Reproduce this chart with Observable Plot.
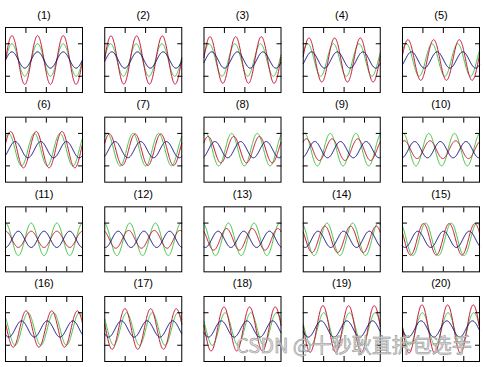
<!DOCTYPE html>
<html><head><meta charset="utf-8">
<script src="https://cdn.jsdelivr.net/npm/d3@7"></script>
<script src="https://cdn.jsdelivr.net/npm/@observablehq/plot@0.6"></script>
<style>
body{margin:0;background:#fff;}
#wrap{position:relative;width:484px;height:367px;overflow:hidden;}
#wm{position:absolute;left:236px;top:330px;font:20px "Noto Sans CJK SC";color:rgba(215,215,215,0.85);-webkit-text-stroke:0.5px #8a8a8a;white-space:nowrap;letter-spacing:0px}
</style></head><body>
<div id="wrap"><div id="chart"></div><div id="wm">CSDN @十秒耿直拆包选手</div></div>
<script>
// Panel titles and grid position
const panelTitles = ["(1)","(2)","(3)","(4)","(5)","(6)","(7)","(8)","(9)","(10)",
                     "(11)","(12)","(13)","(14)","(15)","(16)","(17)","(18)","(19)","(20)"];
const panelCol = [0,1,2,3,4, 0,1,2,3,4, 0,1,2,3,4, 0,1,2,3,4];
const panelRow = [0,0,0,0,0, 1,1,1,1,1, 2,2,2,2,2, 3,3,3,3,3];
// Phase (degrees) of the green and blue sine components in each panel
const greenPhaseDeg = [0,9,18,27,36,45,54,63,72,81,90,99,108,117,126,135,144,153,162,171];
const bluePhaseDeg  = [0,-9,-18,-27,-36,-45,-54,-63,-72,-81,-90,-99,-108,-117,-126,-135,-144,-153,-162,-171];
// Amplitudes
const greenAmp = 1.0;
const blueAmp = 0.5;
// Axis settings
const xMax = 6 * Math.PI;
const xTicks = [5, 10, 15];
const yDomain = [-2, 2];
const yTicks = [-1, 1];

const N = 240;
const samples = [];
panelTitles.forEach((t, i) => {
  const pg = greenPhaseDeg[i] * Math.PI / 180;
  const pb = bluePhaseDeg[i] * Math.PI / 180;
  for (let k = 0; k <= N; k++) {
    const x = xMax * k / N;
    const g = greenAmp * Math.sin(x + pg);
    const b = blueAmp * Math.sin(x + pb);
    samples.push({panel: i, col: panelCol[i], row: panelRow[i], x, green: g, blue: b, red: g + b});
  }
});
const panels = panelTitles.map((t, i) => ({title: t, col: panelCol[i], row: panelRow[i]}));

const axisOpts = {tickSize: -5, fill: "none", stroke: "black", facetAnchor: null, label: null};

const chart = Plot.plot({
  width: 484, height: 367,
  marginLeft: 5, marginRight: 5, marginTop: 27, marginBottom: 6,
  style: {background: "white"},
  x: {domain: [0, xMax], axis: null},
  y: {domain: yDomain, axis: null},
  fx: {domain: [0,1,2,3,4], paddingInner: 0.224, paddingOuter: 0, axis: null, round: false},
  fy: {domain: [0,1,2,3], paddingInner: 0.275, paddingOuter: 0, axis: null, round: false},
  marks: [
    Plot.line(samples, {fx: "col", fy: "row", x: "x", y: "green", z: "panel", stroke: "#3ec43e", strokeWidth: 1}),
    Plot.line(samples, {fx: "col", fy: "row", x: "x", y: "red", z: "panel", stroke: "#c81037", strokeWidth: 1}),
    Plot.line(samples, {fx: "col", fy: "row", x: "x", y: "blue", z: "panel", stroke: "#0a0a80", strokeWidth: 1}),
    Plot.frame({stroke: "black", strokeWidth: 1}),
    Plot.axisX({anchor: "top", ticks: xTicks, ...axisOpts}),
    Plot.axisX({anchor: "bottom", ticks: xTicks, ...axisOpts}),
    Plot.axisY({anchor: "left", ticks: yTicks, ...axisOpts}),
    Plot.axisY({anchor: "right", ticks: yTicks, ...axisOpts}),
    Plot.text(panels, {fx: "col", fy: "row", text: "title", frameAnchor: "top", lineAnchor: "bottom", dy: -9,
      fontSize: 11, fontFamily: "Liberation Sans, Arial, sans-serif", fill: "black"})
  ]
});
document.getElementById("chart").appendChild(chart);
</script>
</body></html>
